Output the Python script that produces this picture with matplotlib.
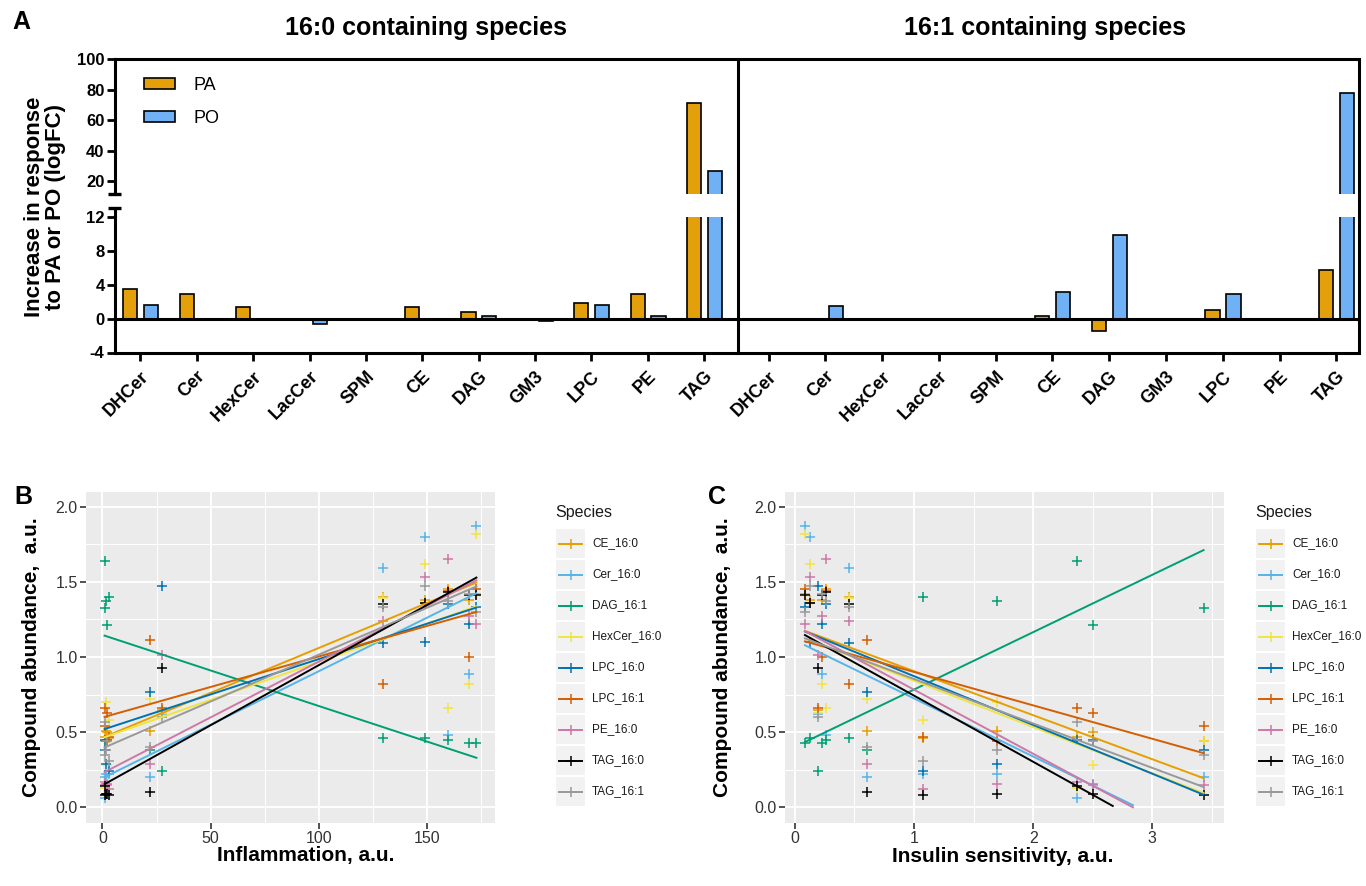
import numpy as np
import matplotlib
matplotlib.use("Agg")
import matplotlib.pyplot as plt
from matplotlib.lines import Line2D
from matplotlib.patches import Rectangle
from matplotlib.ticker import FormatStrFormatter, MultipleLocator

plt.rcParams['font.family'] = ['Liberation Sans', 'DejaVu Sans']

W, H = 1366, 886

# ---- panel A data (logFC) ----
categories = ['DHCer', 'Cer', 'HexCer', 'LacCer', 'SPM', 'CE', 'DAG', 'GM3', 'LPC', 'PE', 'TAG']
pa_16_0 = [3.45, 2.9, 1.4, 0, 0, 1.4, 0.75, -0.15, 1.8, 2.9, 71]
po_16_0 = [1.6, 0, 0, -0.6, 0, 0, 0.3, -0.25, 1.6, 0.3, 27]
pa_16_1 = [0, 0, 0, 0, 0, 0.35, -1.5, 0, 1.05, 0, 5.8]
po_16_1 = [0, 1.45, 0, 0, 0, 3.15, 9.9, 0, 2.85, 0, 78]

# ---- panels B / C data: one value per subject ----
inflammation = [172.8, 149.0, 129.5, 169.6, 159.8, 27.6, 22.0, 3.2, 1.45, 1.2, 2.0, 1.0]
insulin = [0.084, 0.126, 0.457, 0.23, 0.258, 0.196, 0.602, 1.073, 1.693, 2.365, 2.505, 3.43]

ce_16_0 = [1.42, 1.38, 1.40, 1.38, 1.45, 0.65, 0.51, 0.46, 0.51, 0.47, 0.50, 0.44]
cer_16_0 = [1.87, 1.80, 1.59, 0.89, 0.48, 0.62, 0.20, 0.22, 0.22, 0.06, 0.15, 0.20]
dag_16_1 = [0.43, 0.46, 0.46, 0.43, 0.45, 0.24, 0.38, 1.40, 1.37, 1.64, 1.21, 1.325]
hexcer_16_0 = [1.82, 1.62, 1.39, 0.82, 0.66, 0.63, 0.72, 0.58, 0.70, 0.13, 0.28, 0.44]
lpc_16_0 = [1.33, 1.10, 1.09, 1.22, 1.35, 1.47, 0.77, 0.24, 0.29, 0.45, 0.45, 0.38]
lpc_16_1 = [1.45, 1.36, 0.82, 1.00, 1.44, 0.66, 1.11, 0.47, 0.44, 0.66, 0.63, 0.54]
pe_16_0 = [1.22, 1.53, 1.24, 1.27, 1.65, 1.01, 0.29, 0.12, 0.155, 0.17, 0.155, 0.148]
tag_16_0 = [1.41, 1.36, 1.35, 1.41, 1.43, 0.93, 0.10, 0.08, 0.09, 0.14, 0.09, 0.08]
tag_16_1 = [1.30, 1.47, 1.33, 1.42, 1.37, 0.60, 0.40, 0.31, 0.38, 0.57, 0.44, 0.35]

species = ['CE_16:0', 'Cer_16:0', 'DAG_16:1', 'HexCer_16:0', 'LPC_16:0',
           'LPC_16:1', 'PE_16:0', 'TAG_16:0', 'TAG_16:1']
species_values = [ce_16_0, cer_16_0, dag_16_1, hexcer_16_0, lpc_16_0,
                  lpc_16_1, pe_16_0, tag_16_0, tag_16_1]
species_colors = ['#E69F00', '#56B4E9', '#009E73', '#F0E442', '#0072B2',
                  '#D55E00', '#CC79A7', '#000000', '#999999']

PA_COLOR = '#E3A00A'
PO_COLOR = '#6FB1F4'


def box(l, t, r, b):
    return [l / W, 1 - b / H, (r - l) / W, (b - t) / H]


def fig_line(fig, x0, y0, x1, y1, lw=2.2):
    fig.add_artist(Line2D([x0 / W, x1 / W], [1 - y0 / H, 1 - y1 / H],
                          transform=fig.transFigure, color='k', lw=lw,
                          solid_capstyle='butt'))


fig = plt.figure(figsize=(W / 100, H / 100), dpi=100)

# ================= panel A =================
FRAME_T, BREAK_T, BREAK_B, FRAME_B = 59, 193.5, 217.0, 352.5
X_AX, X_DIV, X_RIGHT = 115, 738, 1359

ax_ul = fig.add_axes(box(X_AX, FRAME_T, X_DIV, BREAK_T))
ax_ll = fig.add_axes(box(X_AX, BREAK_B, X_DIV, FRAME_B))
ax_ur = fig.add_axes(box(X_DIV, FRAME_T, X_RIGHT, BREAK_T))
ax_lr = fig.add_axes(box(X_DIV, BREAK_B, X_RIGHT, FRAME_B))

x = np.arange(len(categories))
bw = 0.25
bar_sets = [(ax_ul, ax_ll, pa_16_0, po_16_0, (-0.45, 10.6)),
            (ax_ur, ax_lr, pa_16_1, po_16_1, (-0.54, 10.4))]
for up, lo, pa, po, xl in bar_sets:
    for a in (up, lo):
        b1 = a.bar(x - 0.18, pa, bw, color=PA_COLOR, edgecolor='k', lw=1.2, zorder=2)
        b2 = a.bar(x + 0.19, po, bw, color=PO_COLOR, edgecolor='k', lw=1.2, zorder=2)
        a.set_xlim(*xl)
        a.patch.set_visible(False)
        for s in a.spines.values():
            s.set_visible(False)
            s.set_linewidth(2.2)
    up.set_ylim(12, 100)
    lo.set_ylim(-4, 12)
    up.spines['top'].set_visible(True)
    lo.spines['bottom'].set_visible(True)
    lo.axhline(0, color='k', lw=2.2, zorder=3)
    up.set_xticks([])
    lo.set_xticks(x)
    lo.set_xticklabels(categories, rotation=45, ha='right', va='top',
                       rotation_mode='anchor', fontweight='bold', fontsize=13)
    lo.tick_params(axis='x', length=6, width=2, pad=5)
    up.set_yticks([])
    lo.set_yticks([])
    if up is ax_ul:
        legend_bars = (b1, b2)

for a, ticks in ((ax_ul, [20, 40, 60, 80, 100]), (ax_ll, [-4, 0, 4, 8, 12])):
    a.spines['left'].set_visible(True)
    a.set_yticks(ticks)
    a.set_yticklabels([str(t) for t in ticks], fontweight='bold', fontsize=12)
    a.tick_params(axis='y', length=6, width=2, pad=1.5)

# frame pieces spanning the axis break
fig_line(fig, X_DIV, FRAME_T, X_DIV, FRAME_B)
fig_line(fig, X_RIGHT, FRAME_T, X_RIGHT, FRAME_B)
fig_line(fig, X_AX, 207.5, X_AX, BREAK_B)
fig_line(fig, X_AX - 7, BREAK_T, X_AX + 6, BREAK_T, lw=2.4)
fig_line(fig, X_AX - 7, 207.5, X_AX + 6, 207.5, lw=2.4)

ax_ul.legend(legend_bars, ['PA', 'PO'], loc='upper left', bbox_to_anchor=(0.02, 0.985),
             frameon=False, handlelength=1.75, handleheight=0.55, labelspacing=0.85,
             handletextpad=1.0, prop={'size': 13})

fig.text(12 / W, 1 - 22 / H, 'A', fontsize=18, fontweight='bold', va='center')
fig.text(426 / W, 1 - 28 / H, '16:0 containing species', fontsize=18, fontweight='bold',
         ha='center', va='center')
fig.text(1045 / W, 1 - 28 / H, '16:1 containing species', fontsize=18, fontweight='bold',
         ha='center', va='center')
fig.text(45 / W, 1 - 207 / H, 'Increase in response\nto PA or PO (logFC)', fontsize=16,
         fontweight='bold', rotation=90, ha='center', va='center', multialignment='center',
         linespacing=1.05)

# ================= panels B and C =================
def gg_panel(ax, xs, major, minor, fmt):
    ax.set_facecolor('#EBEBEB')
    for s in ax.spines.values():
        s.set_visible(False)
    xs = np.asarray(xs)
    pad = 0.05 * (xs.max() - xs.min())
    ax.set_xlim(xs.min() - pad, xs.max() + pad)
    ax.set_ylim(-0.1, 2.1)
    ax.xaxis.set_major_locator(MultipleLocator(major))
    ax.xaxis.set_minor_locator(MultipleLocator(minor))
    ax.yaxis.set_major_locator(MultipleLocator(0.5))
    ax.yaxis.set_minor_locator(MultipleLocator(0.25))
    ax.xaxis.set_major_formatter(FormatStrFormatter(fmt))
    ax.yaxis.set_major_formatter(FormatStrFormatter('%.1f'))
    ax.grid(which='major', color='white', lw=1.3)
    ax.grid(which='minor', color='white', lw=0.7)
    ax.set_axisbelow(True)
    ax.tick_params(which='major', length=4, width=1.2, color='#333333',
                   labelsize=11.5, labelcolor='#333333', pad=2)
    ax.tick_params(which='minor', length=0)

    for vals, col in zip(species_values, species_colors):
        ys = np.asarray(vals)
        ax.plot(xs, ys, ls='none', marker='+', ms=7, mew=1.1, color=col, zorder=3)
    for vals, col in zip(species_values, species_colors):
        ys = np.asarray(vals)
        k, b = np.polyfit(xs, ys, 1)
        gx = np.linspace(xs.min(), xs.max(), 80)
        gy = k * gx + b
        keep = (gy >= 0) & (gy <= 2)
        ax.plot(gx[keep], gy[keep], color=col, lw=1.4, zorder=4)


def gg_legend(x0):
    lg = fig.add_axes(box(x0 - 5, 495, x0 + 110, 815))
    lg.set_xlim(x0 - 5, x0 + 110)
    lg.set_ylim(815, 495)
    lg.axis('off')
    lg.text(x0, 512, 'Species', fontsize=11.5, va='center', ha='left', color='#1A1A1A')
    for i, (name, col) in enumerate(zip(species, species_colors)):
        top = 529 + 31 * i
        lg.add_patch(Rectangle((x0 + 1, top), 29, 29, facecolor='#F2F2F2', edgecolor='none'))
        cy = top + 14.5
        lg.plot([x0 + 4, x0 + 27], [cy, cy], color=col, lw=1.4)
        lg.plot([x0 + 15.5], [cy], marker='+', ms=7, mew=1.1, color=col)
        lg.text(x0 + 37, cy, name, fontsize=8.5, va='center', ha='left', color='#1A1A1A')


ax_b = fig.add_axes(box(86, 491.5, 495, 822.5))
gg_panel(ax_b, inflammation, 50, 25, '%d')
ax_c = fig.add_axes(box(785, 491.5, 1223.5, 822.5))
gg_panel(ax_c, insulin, 1, 0.5, '%d')

gg_legend(555)
gg_legend(1255)

fig.text(14 / W, 1 - 497 / H, 'B', fontsize=18, fontweight='bold', va='center')
fig.text(708 / W, 1 - 497 / H, 'C', fontsize=18, fontweight='bold', va='center')
fig.text(306 / W, 1 - 856 / H, 'Inflammation, a.u.', fontsize=15, fontweight='bold',
         ha='center', va='center')
fig.text(1003 / W, 1 - 856 / H, 'Insulin sensitivity, a.u.', fontsize=15, fontweight='bold',
         ha='center', va='center')
fig.text(32 / W, 1 - 657 / H, 'Compound abundance,  a.u.', fontsize=15, fontweight='bold',
         rotation=90, ha='center', va='center')
fig.text(722 / W, 1 - 657 / H, 'Compound abundance,  a.u.', fontsize=15, fontweight='bold',
         rotation=90, ha='center', va='center')

fig.savefig('out.png', dpi=100)
